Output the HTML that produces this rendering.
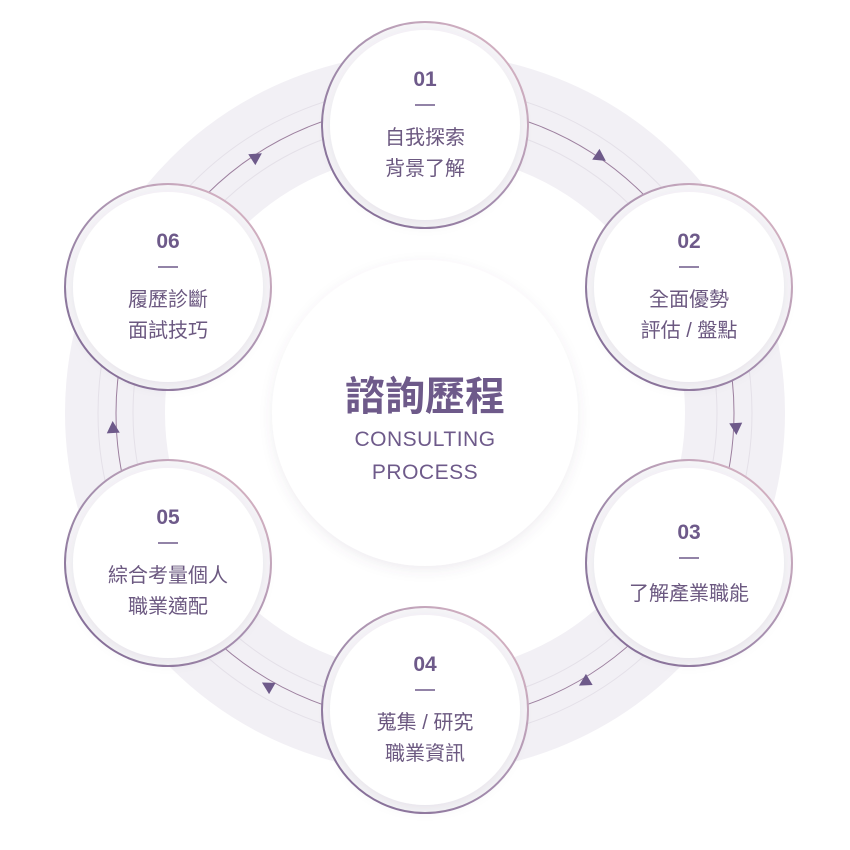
<!DOCTYPE html>
<html><head><meta charset="utf-8"><style>
html,body{margin:0;padding:0;background:#fff;}
svg{display:block}
text{font-family:"Liberation Sans","Noto Sans CJK TC",sans-serif;}
</style></head><body>
<svg width="850" height="850" viewBox="0 0 850 850" xmlns="http://www.w3.org/2000/svg">
<defs>
<linearGradient id="bd" x1="0" y1="1" x2="1" y2="0">
<stop offset="0" stop-color="#7a6590"/><stop offset="0.5" stop-color="#a892b0"/><stop offset="1" stop-color="#e2bcc8"/>
</linearGradient>
<filter id="sh" x="-30%" y="-30%" width="160%" height="160%">
<feDropShadow dx="0" dy="4" stdDeviation="6" flood-color="#5a4a70" flood-opacity="0.10"/>
</filter>
<polygon id="tri" points="7,0 -5,-6.5 -5,6.5" fill="#6e5a8a"/>
</defs>
<circle cx="425" cy="413" r="310" fill="none" stroke="#f2f0f5" stroke-width="100"/>
<circle cx="425" cy="413" r="327" fill="none" stroke="#e4e0e8" stroke-width="1"/>
<circle cx="425" cy="413" r="292" fill="none" stroke="#e4e0e8" stroke-width="1"/>
<circle cx="425" cy="413" r="309" fill="none" stroke="#9c7f9e" stroke-width="1"/>
<circle cx="425" cy="413" r="153" fill="#fff" filter="url(#sh)"/>
<text x="425" y="410" text-anchor="middle" font-size="40" font-weight="bold" fill="#6e5a8a">諮詢歷程</text>
<text x="425" y="446" text-anchor="middle" font-size="21" fill="#6e5a8a" letter-spacing="0.5">CONSULTING</text>
<text x="425" y="479" text-anchor="middle" font-size="21" fill="#6e5a8a" letter-spacing="0.5">PROCESS</text>
<use href="#tri" transform="translate(600,157) rotate(34)"/>
<use href="#tri" transform="translate(736,428) rotate(87)"/>
<use href="#tri" transform="translate(585,682) rotate(149)"/>
<use href="#tri" transform="translate(268,686) rotate(-150)"/>
<use href="#tri" transform="translate(113,428) rotate(-93)"/>
<use href="#tri" transform="translate(256,157) rotate(-33)"/>
<g id="nodes">
<g transform="translate(425,125)"><circle r="103" fill="#f6f5f8" stroke="url(#bd)" stroke-width="2"/><circle r="95" fill="#fff" filter="url(#sh)"/>
<text y="-39" text-anchor="middle" font-size="21" font-weight="bold" fill="#6e5a8a">01</text><line x1="-10" x2="10" y1="-20" y2="-20" stroke="#6e5a8a" stroke-width="1.5"/>
<text y="19" text-anchor="middle" font-size="20" fill="#6b5880">自我探索</text><text y="50" text-anchor="middle" font-size="20" fill="#6b5880">背景了解</text></g>
<g transform="translate(689,287)"><circle r="103" fill="#f6f5f8" stroke="url(#bd)" stroke-width="2"/><circle r="95" fill="#fff" filter="url(#sh)"/>
<text y="-39" text-anchor="middle" font-size="21" font-weight="bold" fill="#6e5a8a">02</text><line x1="-10" x2="10" y1="-20" y2="-20" stroke="#6e5a8a" stroke-width="1.5"/>
<text y="19" text-anchor="middle" font-size="20" fill="#6b5880">全面優勢</text><text y="50" text-anchor="middle" font-size="20" fill="#6b5880">評估 / 盤點</text></g>
<g transform="translate(689,563)"><circle r="103" fill="#f6f5f8" stroke="url(#bd)" stroke-width="2"/><circle r="95" fill="#fff" filter="url(#sh)"/>
<text y="-24" text-anchor="middle" font-size="21" font-weight="bold" fill="#6e5a8a">03</text><line x1="-10" x2="10" y1="-5" y2="-5" stroke="#6e5a8a" stroke-width="1.5"/>
<text y="37" text-anchor="middle" font-size="20" fill="#6b5880">了解產業職能</text></g>
<g transform="translate(425,710)"><circle r="103" fill="#f6f5f8" stroke="url(#bd)" stroke-width="2"/><circle r="95" fill="#fff" filter="url(#sh)"/>
<text y="-39" text-anchor="middle" font-size="21" font-weight="bold" fill="#6e5a8a">04</text><line x1="-10" x2="10" y1="-20" y2="-20" stroke="#6e5a8a" stroke-width="1.5"/>
<text y="19" text-anchor="middle" font-size="20" fill="#6b5880">蒐集 / 研究</text><text y="50" text-anchor="middle" font-size="20" fill="#6b5880">職業資訊</text></g>
<g transform="translate(168,563)"><circle r="103" fill="#f6f5f8" stroke="url(#bd)" stroke-width="2"/><circle r="95" fill="#fff" filter="url(#sh)"/>
<text y="-39" text-anchor="middle" font-size="21" font-weight="bold" fill="#6e5a8a">05</text><line x1="-10" x2="10" y1="-20" y2="-20" stroke="#6e5a8a" stroke-width="1.5"/>
<text y="19" text-anchor="middle" font-size="20" fill="#6b5880">綜合考量個人</text><text y="50" text-anchor="middle" font-size="20" fill="#6b5880">職業適配</text></g>
<g transform="translate(168,287)"><circle r="103" fill="#f6f5f8" stroke="url(#bd)" stroke-width="2"/><circle r="95" fill="#fff" filter="url(#sh)"/>
<text y="-39" text-anchor="middle" font-size="21" font-weight="bold" fill="#6e5a8a">06</text><line x1="-10" x2="10" y1="-20" y2="-20" stroke="#6e5a8a" stroke-width="1.5"/>
<text y="19" text-anchor="middle" font-size="20" fill="#6b5880">履歷診斷</text><text y="50" text-anchor="middle" font-size="20" fill="#6b5880">面試技巧</text></g>
</g>
</svg>
</body></html>
